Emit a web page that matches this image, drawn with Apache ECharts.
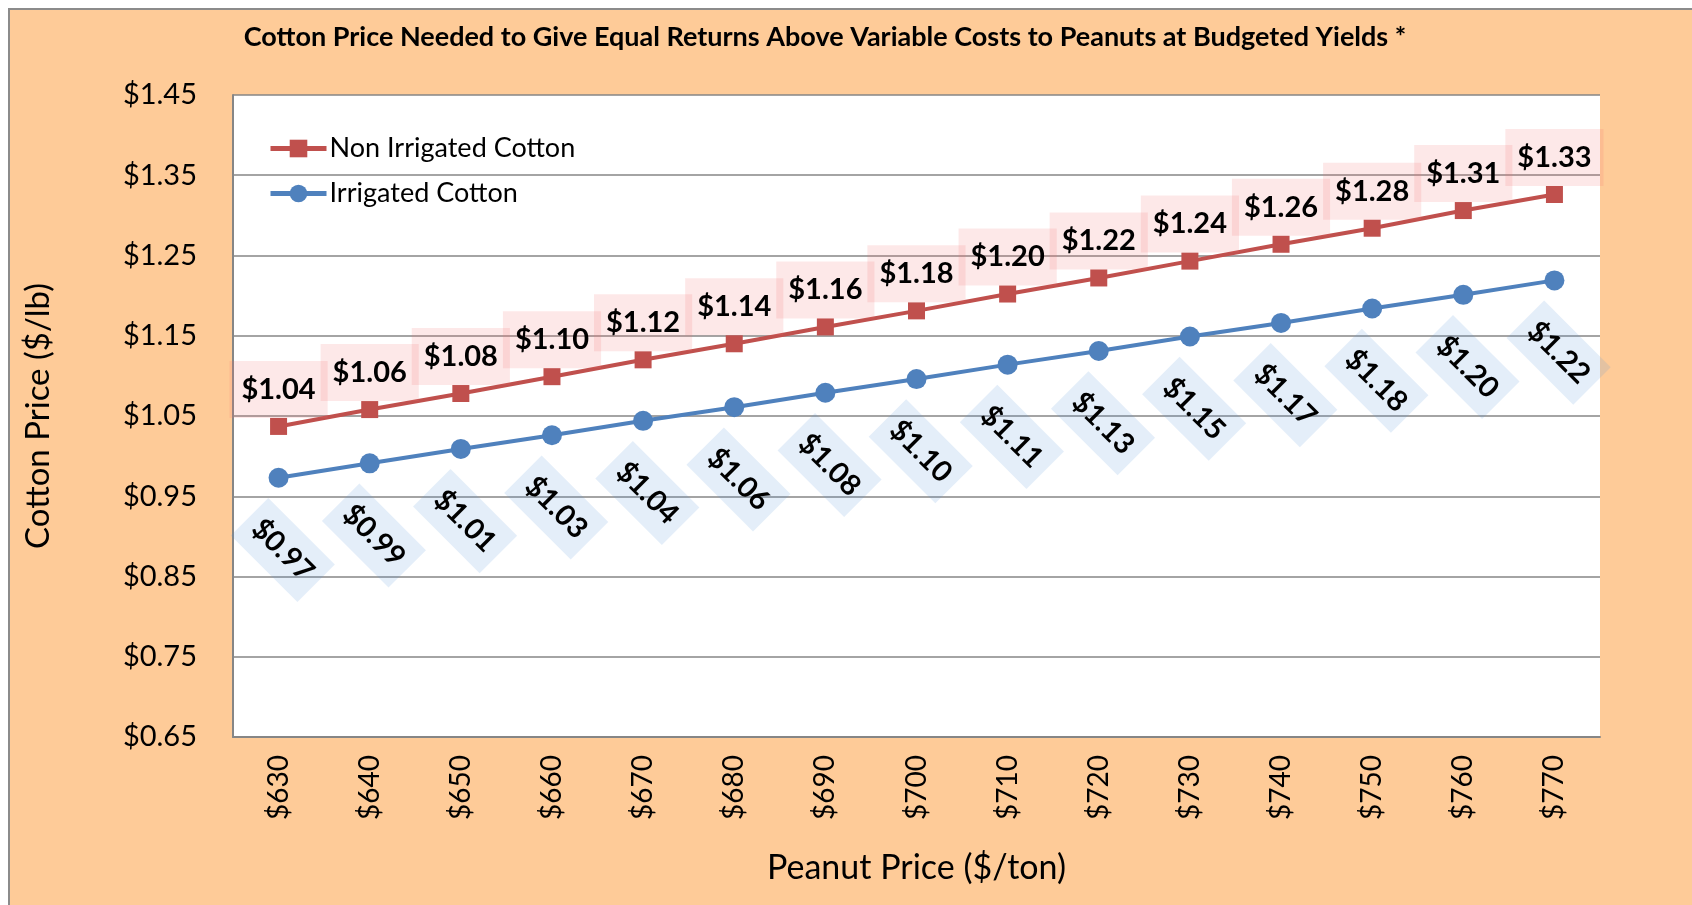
<!DOCTYPE html>
<html>
<head>
<meta charset="utf-8">
<script src="https://cdn.jsdelivr.net/npm/echarts@6.0.0/dist/echarts.min.js"></script>
<style>
	html,body{margin:0;padding:0;background:#fff;overflow:hidden;}
	#frame{position:absolute;left:8px;top:8px;width:1700px;height:910px;background:#FECB98;border:2px solid #8b8b8b;}
	#main{position:absolute;left:0;top:0;width:1692px;height:905px;}
</style>
</head>
<body>
<div id="frame"></div>
<div id="main"></div>
<script>
// peanut price categories ($/ton)
var peanutPrices = ['$630','$640','$650','$660','$670','$680','$690','$700','$710','$720','$730','$740','$750','$760','$770'];
// cotton price needed ($/lb)
var nonIrrigated = [1.037,1.058,1.078,1.099,1.120,1.140,1.161,1.181,1.202,1.222,1.243,1.264,1.284,1.306,1.326];
var irrigated = [0.973,0.991,1.009,1.026,1.044,1.061,1.079,1.096,1.114,1.131,1.149,1.166,1.184,1.201,1.219];

var font = 'Lato';

function money(v){
	return '$' + v.toFixed(2);
}

var myChart = echarts.init(document.getElementById('main'));
var option = {
	backgroundColor: 'transparent',
	title: {
		text: 'Cotton Price Needed to Give Equal Returns Above Variable Costs to Peanuts at Budgeted Yields *',
		left: 820,
		top: 19,
		textAlign: 'center',
		textStyle: {
			fontFamily: font,
			fontSize: 27,
			fontWeight: 'bold',
			color: '#000'
		}
	},
	legend: {
		orient: 'vertical',
		left: 268,
		top: 135,
		padding: 0,
		itemWidth: 56,
		itemHeight: 22,
		itemGap: 18,
		lineStyle: {width: 5},
		textStyle: {
			fontFamily: font,
			fontSize: 27,
			color: '#000',
			padding: [0, 0, 0, -2]
		},
		data: ['Non Irrigated Cotton','Irrigated Cotton']
	},
	grid: {
		left: 233,
		right: 92,
		top: 95,
		bottom: 168,
		show: true,
		backgroundColor: '#fff',
		borderWidth: 0
	},
	xAxis: {
		type: 'category',
		data: peanutPrices,
		name: 'Peanut Price ($/ton)',
		nameLocation: 'middle',
		nameGap: 114,
		nameTextStyle: {fontFamily: font, fontSize: 34, color: '#000'},
		axisLine: {lineStyle: {color: '#868686', width: 2}},
		axisTick: {show: false},
		axisLabel: {
			rotate: 90,
			margin: 18,
			fontFamily: font,
			fontSize: 28,
			color: '#000'
		}
	},
	yAxis: {
		type: 'value',
		min: 0.65,
		max: 1.45,
		interval: 0.1,
		name: 'Cotton Price ($/lb)',
		nameLocation: 'middle',
		nameGap: 178,
		nameTextStyle: {fontFamily: font, fontSize: 33, color: '#000'},
		axisLine: {show: true, lineStyle: {color: '#868686', width: 2}},
		axisTick: {show: false},
		splitLine: {lineStyle: {color: '#868686', width: 1.5}},
		axisLabel: {
			margin: 36,
			fontFamily: font,
			fontSize: 29,
			color: '#000',
			formatter: function(v){ return money(v); }
		}
	},
	series: [
		{
			name: 'Non Irrigated Cotton',
			type: 'line',
			data: nonIrrigated,
			symbol: 'rect',
			symbolSize: 17,
			itemStyle: {color: '#C0504D'},
			lineStyle: {color: '#C0504D', width: 4},
			label: {
				show: true,
				position: 'top',
				distance: 0,
				fontFamily: font,
				fontSize: 29,
				fontWeight: 'bold',
				color: '#000',
				backgroundColor: 'rgba(240,110,110,0.16)',
				padding: [14, 12],
				formatter: function(p){ return money(p.value); }
			},
			z: 3
		},
		{
			name: 'Irrigated Cotton',
			type: 'line',
			data: irrigated,
			symbol: 'circle',
			symbolSize: 20,
			itemStyle: {color: '#4F81BD'},
			lineStyle: {color: '#4F81BD', width: 4},
			label: {
				show: true,
				position: 'bottom',
				distance: 58,
				offset: [6, 0],
				align: 'center',
				verticalAlign: 'middle',
				rotate: -45,
				fontFamily: font,
				fontSize: 29,
				fontWeight: 'bold',
				color: '#000',
				backgroundColor: 'rgba(90,150,220,0.16)',
				padding: [12, 10],
				formatter: function(p){ return money(p.value); }
			},
			z: 2
		}
	]
};
myChart.setOption(option);
</script>
</body>
</html>
